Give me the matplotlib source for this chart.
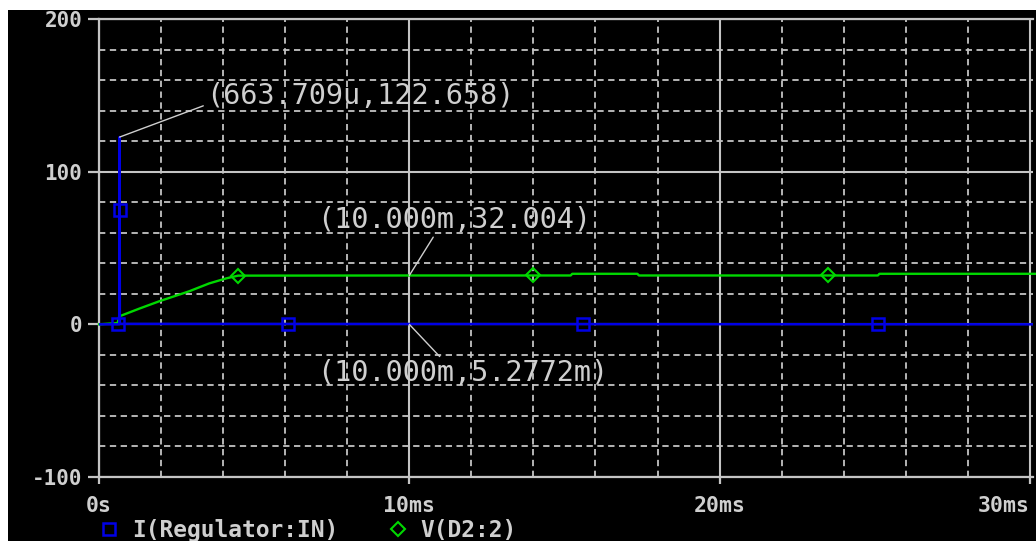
import matplotlib
matplotlib.use("Agg")
import matplotlib.pyplot as plt
from matplotlib.patches import Rectangle
from matplotlib.lines import Line2D
from matplotlib.ticker import MultipleLocator

# ---- data (time in ms) ----
i_reg_t = [0.0, 0.655, 0.664, 0.672, 30.2]
i_reg_v = [0.0, 0.0, 122.658, 0.3, 0.0053]
i_reg_mark_t = [0.61, 0.664, 6.10, 15.6, 25.1]
i_reg_mark_v = [0.0, 74.6, 0.0, 0.0, 0.0]

v_d2_t = [0.0, 0.60, 0.65, 1.30, 1.94, 2.90, 3.55, 4.10, 4.48, 10.0, 15.2, 15.25,
          17.35, 17.4, 25.1, 25.15, 30.2]
v_d2_v = [0.0, 0.8, 5.2, 10.3, 15.1, 21.6, 26.8, 30.1, 31.9, 32.004, 32.0, 33.1,
          33.1, 32.0, 32.0, 33.1, 33.1]
v_d2_mark_t = [4.48, 14.0, 23.5]
v_d2_mark_v = [31.9, 32.0, 32.0]

x_ticks = [0, 10, 20, 30]
x_tick_labels = ["0s", "10ms", "20ms", "30ms"]
y_ticks = [-100, 0, 100, 200]
y_tick_labels = ["-100", "0", "100", "200"]

series_names = ["I(Regulator:IN)", "V(D2:2)"]
cursor_labels = ["(663.709u,122.658)", "(10.000m,32.004)", "(10.000m,5.2772m)"]

BLUE = "#0000e6"
GREEN = "#00d800"
GRAY = "#c4c4c4"
LGRAY = "#cfcfcf"
MONO = "DejaVu Sans Mono"

W, H = 1036, 541
fig = plt.figure(figsize=(W / 100, H / 100), dpi=100, facecolor="white")
fig.patches.append(Rectangle((8 / W, 0), 1 - 8 / W, 1 - 10 / H, transform=fig.transFigure,
                             facecolor="black", edgecolor="none", zorder=-10))

ax = fig.add_axes([99 / W, (H - 477) / H, (1033 - 99) / W, (477 - 19) / H])
ax.set_facecolor("black")
ax.set_xlim(0, 30.1)
ax.set_ylim(-100, 200)

# grid
ax.xaxis.set_minor_locator(MultipleLocator(2))
ax.yaxis.set_minor_locator(MultipleLocator(20))
ax.set_xticks(x_ticks)
ax.set_yticks(y_ticks)
ax.grid(which="minor", color=GRAY, linestyle=(0, (3.5, 2.5)), linewidth=1.3)
ax.grid(which="major", color=GRAY, linestyle="-", linewidth=1.5)
ax.set_axisbelow(True)

for s in ["left", "bottom", "top"]:
    ax.spines[s].set_color(GRAY)
    ax.spines[s].set_linewidth(1.6)
ax.spines["right"].set_visible(False)

ax.set_yticklabels(y_tick_labels)
ax.set_xticklabels(x_tick_labels)
ax.tick_params(which="major", axis="y", length=8, width=1.6, color=GRAY, labelcolor=LGRAY,
               labelsize=15, pad=4)
ax.tick_params(which="major", axis="x", length=5, width=1.6, color=GRAY, labelcolor=LGRAY,
               labelsize=15.5, pad=9)
ax.tick_params(which="minor", length=0)
for lab in ax.get_xticklabels() + ax.get_yticklabels():
    lab.set_fontfamily(MONO)
    lab.set_fontweight("bold")
xl = ax.get_xticklabels()
xl[-1].set_horizontalalignment("right")

# series
ax.plot(v_d2_t, v_d2_v, color=GREEN, lw=1.7, zorder=3, clip_on=False)
ax.plot(v_d2_mark_t, v_d2_mark_v, ls="none", marker="D", ms=7.5, mfc="none", mec=GREEN, mew=1.5, zorder=4)
ax.plot(i_reg_t, i_reg_v, color=BLUE, lw=1.8, zorder=5)
ax.plot(i_reg_mark_t, i_reg_mark_v, ls="none", marker="s", ms=9, mfc="none", mec=BLUE, mew=1.8, zorder=6)

# cursor annotations
akw = dict(color=LGRAY, fontsize=20.5, fontfamily=MONO, va="center", ha="left", zorder=7)
lkw = dict(arrowstyle="-", color=LGRAY, lw=1.0, shrinkA=0, shrinkB=0)
ax.annotate(cursor_labels[0], xy=(0.664, 122.658), xytext=(3.45, 149.3), **akw,
            arrowprops=dict(**lkw, relpos=(0.0, 0.2)))
ax.annotate(cursor_labels[1], xy=(10.0, 32.004), xytext=(7.03, 68.1), **akw,
            arrowprops=dict(**lkw, relpos=(0.43, 0.0)))
ax.annotate(cursor_labels[2], xy=(10.0, 0.0053), xytext=(7.03, -32.1), **akw,
            arrowprops=dict(**lkw, relpos=(0.43, 1.0)))

# legend
handles = [Line2D([], [], ls="none", marker="s", ms=9, mfc="none", mec=BLUE, mew=1.8),
           Line2D([], [], ls="none", marker="D", ms=7.5, mfc="none", mec=GREEN, mew=1.5)]
leg = fig.legend(handles, series_names, loc="center left", bbox_to_anchor=(100 / W, 1 - 531 / H),
                 ncol=2, frameon=False, handlelength=0.8, handletextpad=0.6, columnspacing=2.2,
                 borderaxespad=0, borderpad=0,
                 prop=dict(family=MONO, weight="bold", size=16.5))
for t in leg.get_texts():
    t.set_color(LGRAY)

fig.savefig("out.png", dpi=100, facecolor=fig.get_facecolor())
